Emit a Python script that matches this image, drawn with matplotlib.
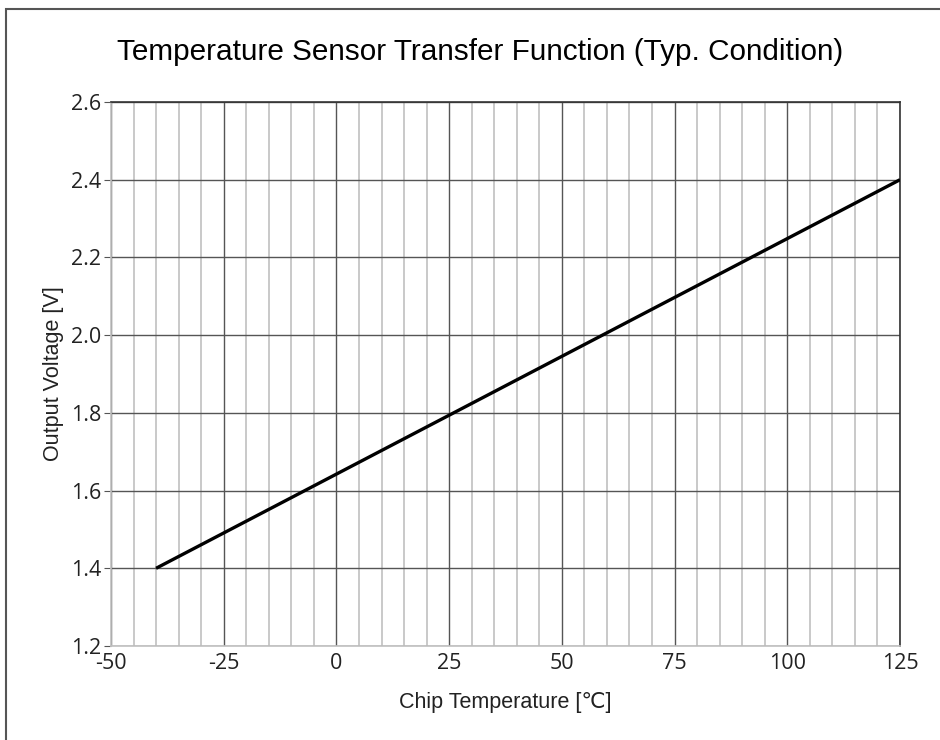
import matplotlib.pyplot as plt
from matplotlib.patches import Rectangle
from matplotlib.ticker import MultipleLocator

# sensor transfer line (end points)
temp_c = [-40, 125]
volt_v = [1.4, 2.4]

x_ticks = [-50, -25, 0, 25, 50, 75, 100, 125]
x_labels = ['-50', '-25', '0', '25', '50', '75', '100', '125']
y_ticks = [1.2, 1.4, 1.6, 1.8, 2.0, 2.2, 2.4, 2.6]

plt.rcParams['font.family'] = ['Liberation Sans', 'DejaVu Sans']

fig = plt.figure(figsize=(9.4, 7.4), dpi=100)
ax = fig.add_axes([111/940, 1-646/740, (900-111)/940, (646-102)/740])

# outer frame of the picture
fig.patches.append(Rectangle((5.5/940, -0.1), 1.2, 1.1-9.5/740, transform=fig.transFigure,
                             fill=False, edgecolor='#555555', linewidth=1.5))

ax.set_xlim(-50, 125)
ax.set_ylim(1.2, 2.6)
ax.set_xticks(x_ticks)
ax.set_xticklabels(x_labels)
ax.set_yticks(y_ticks)
ax.set_yticklabels(['%.1f' % v for v in y_ticks])
ax.xaxis.set_minor_locator(MultipleLocator(5))

ax.grid(which='minor', axis='x', color='#c0c0c0', linewidth=1.2)
ax.grid(which='major', axis='both', color='#555555', linewidth=1.0)
ax.set_axisbelow(True)

ax.plot(temp_c, volt_v, color='black', linewidth=2.4, solid_capstyle='butt', zorder=3)

for side in ['left', 'bottom']:
    ax.spines[side].set_color('#c0c0c0')
    ax.spines[side].set_linewidth(1.2)
for side in ['top', 'right']:
    ax.spines[side].set_color('#333333')
    ax.spines[side].set_linewidth(1.2)

tick_font = ['Open Sans', 'DejaVu Sans']
ax.tick_params(axis='y', which='major', length=5, color='#555555', labelsize=15.5, pad=2)
ax.tick_params(axis='x', which='both', length=0, labelsize=15.5, pad=5)
for lab in ax.get_xticklabels() + ax.get_yticklabels():
    lab.set_family(tick_font)
    lab.set_color('#222222')

ax.set_title('Temperature Sensor Transfer Function (Typ. Condition)', fontsize=21.4, pad=30, x=0.468)
ax.set_xlabel('Chip Temperature [℃]', fontsize=15.5, labelpad=13, color='#222222')
ax.set_ylabel('Output Voltage [V]', fontsize=15.5, labelpad=5, color='#222222')

fig.savefig('out.png', dpi=100)
